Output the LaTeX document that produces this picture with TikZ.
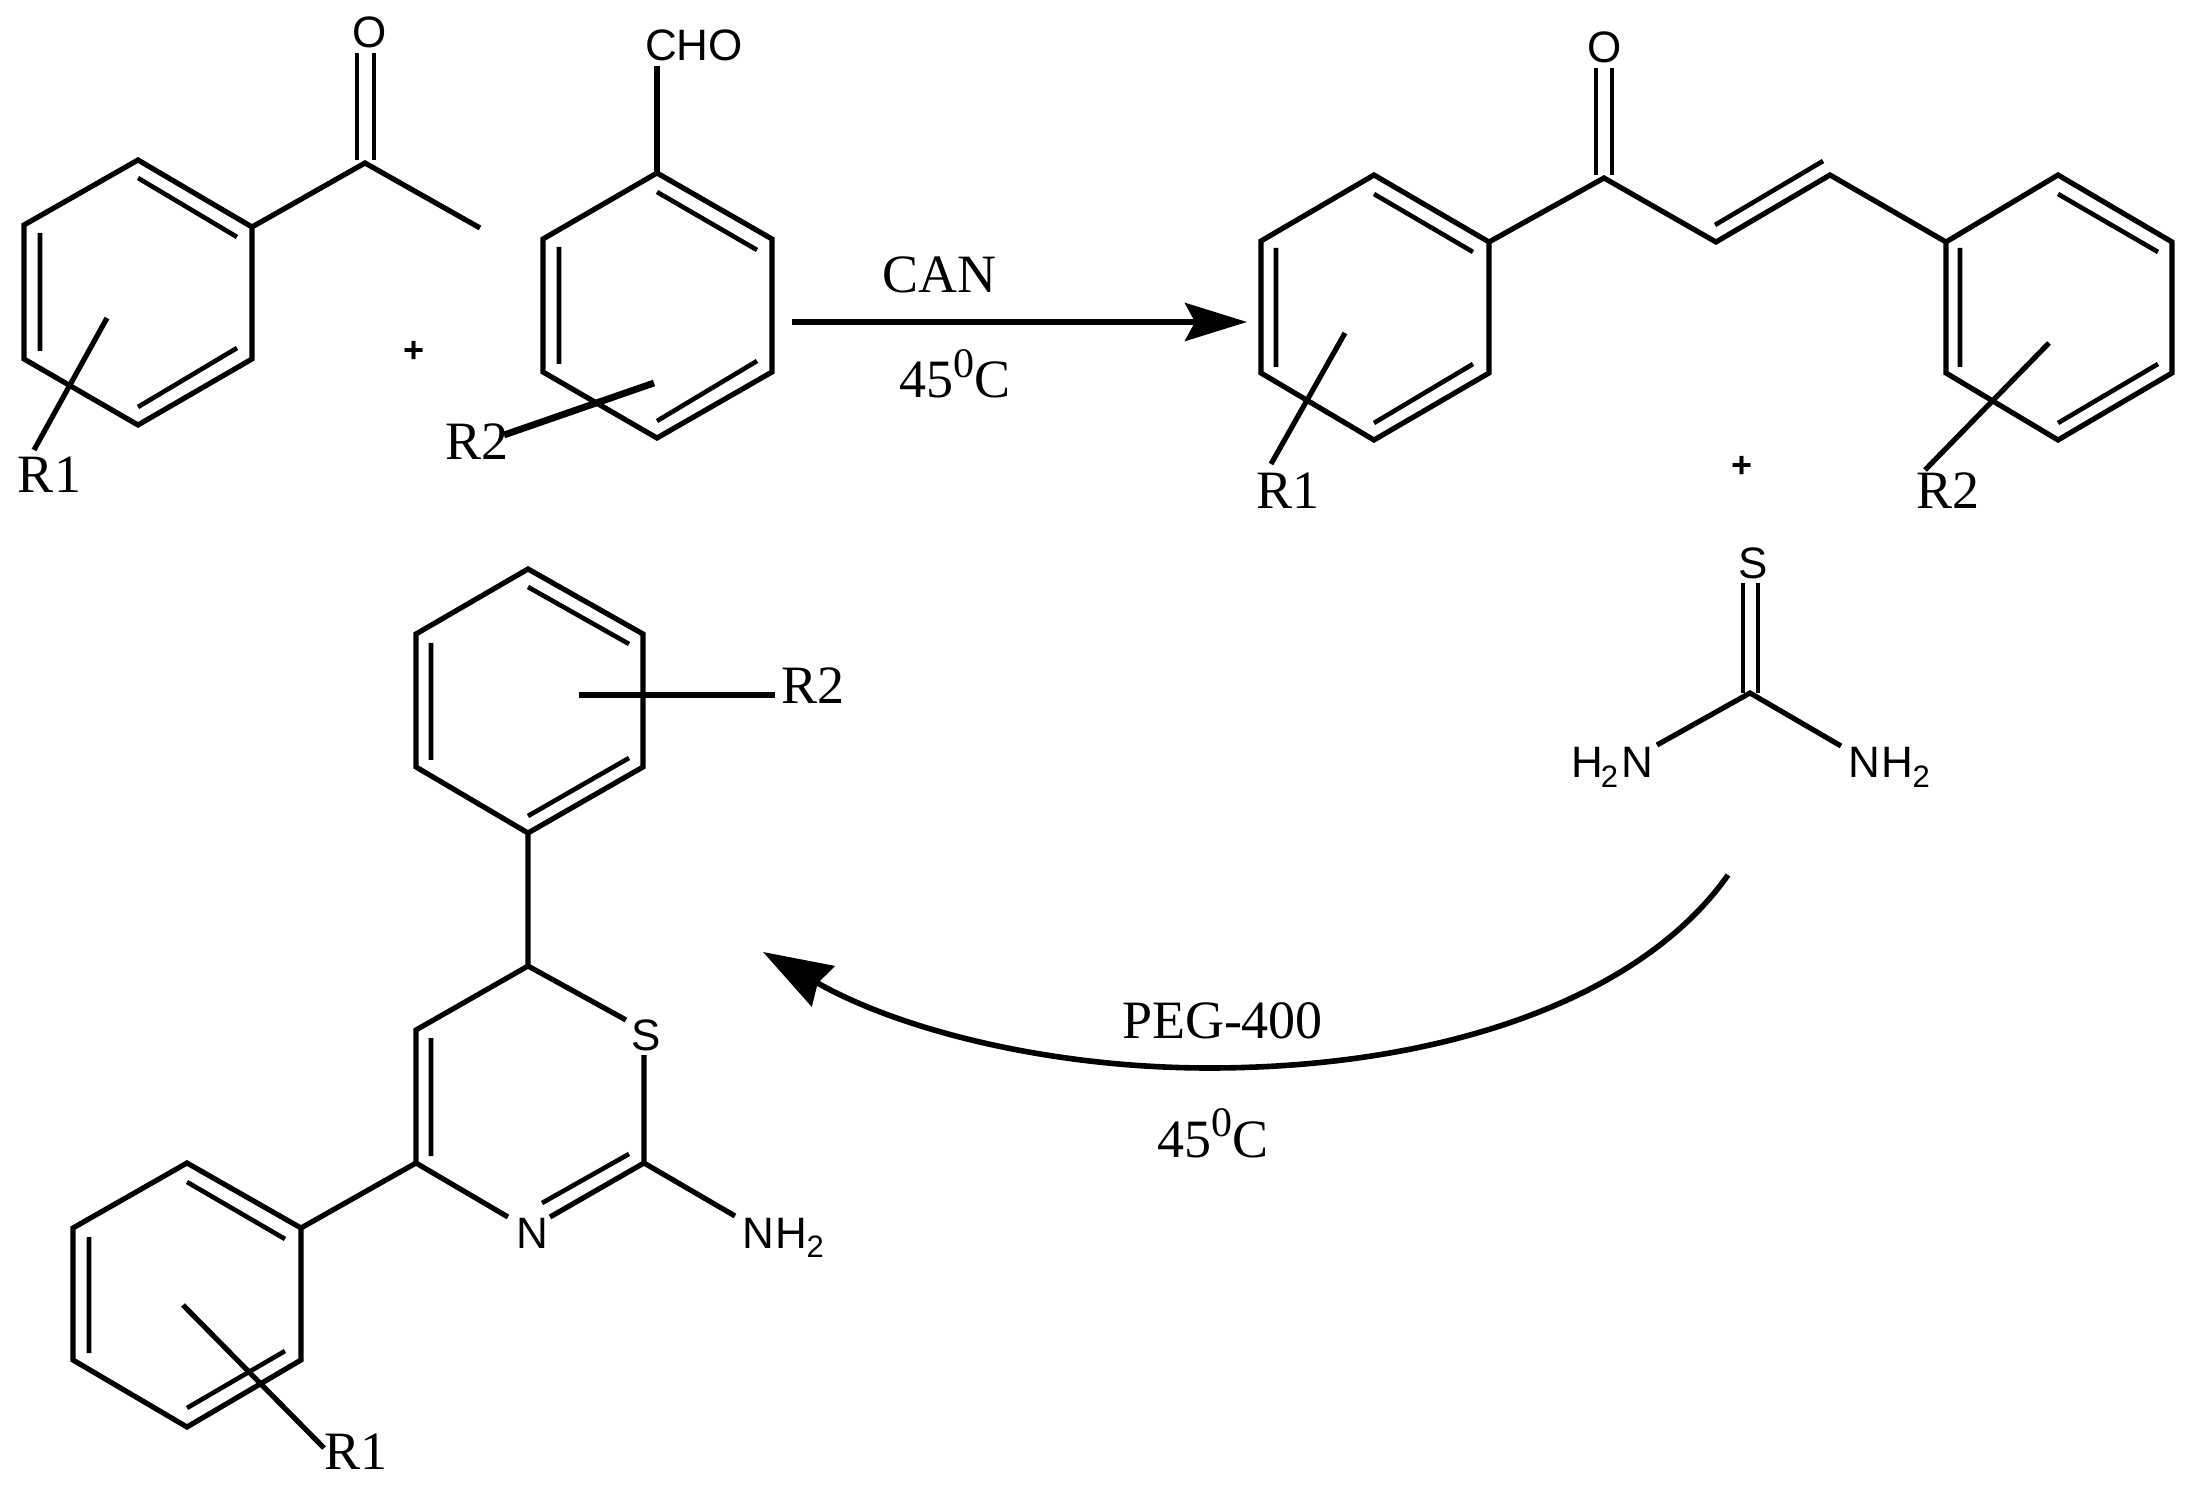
\documentclass[tikz,border=0pt]{standalone}
\usepackage{fontspec}
\setmainfont{Liberation Serif}
\newfontfamily\arialf{Liberation Sans}
\usetikzlibrary{arrows.meta}
\newcommand{\serifsz}{\fontsize{27}{27}\selectfont}
\newcommand{\atomsz}{\arialf\fontsize{22}{22}\selectfont}
\newcommand{\subtwo}{\raisebox{-4.7pt}{\fontsize{15.5}{15.5}\selectfont 2}}
\newcommand{\tempC}{\serifsz 45\raisebox{10.2pt}{\fontsize{21}{21}\selectfont 0}C}
\tikzset{
  bond/.style={line width=2.6pt,line cap=butt,line join=miter,black},
  thinbond/.style={line width=2.3pt,line cap=butt,black},
  heavybond/.style={line width=3.4pt,line cap=butt,black},
  serif/.style={inner sep=0pt,outer sep=0pt,anchor=base west,font=\serifsz},
  atom/.style={inner sep=0pt,outer sep=0pt,anchor=base west,font=\atomsz},
  plus/.style={inner sep=0pt,outer sep=0pt,font=\arialf\bfseries\fontsize{18}{18}\selectfont},
  rxn/.style={line width=2.8pt,line cap=butt,black}
}
\begin{document}
\begin{tikzpicture}[x=0.5pt,y=-0.5pt]
\useasboundingbox (0,0) rectangle (2191,1491);
\fill[white] (0,0) rectangle (2191,1491);

% --- acetophenone ---
\coordinate (a1) at (138,160); \coordinate (a2) at (252,227); \coordinate (a3) at (252,359);
\coordinate (a4) at (138,425); \coordinate (a5) at (24,359);  \coordinate (a6) at (24,225);
\draw[bond] (a1)--(a2)--(a3)--(a4)--(a5)--(a6)--cycle;
\coordinate (ai1s) at (138,178); \coordinate (ai1e) at (237,237);
\coordinate (ai2s) at (40,233);  \coordinate (ai2e) at (40,351);
\coordinate (ai3s) at (237,348); \coordinate (ai3e) at (138,407);
\draw[thinbond] (ai1s)--(ai1e) (ai2s)--(ai2e) (ai3s)--(ai3e);
\coordinate (ac) at (365,163); \coordinate (ame) at (480,228);
\draw[bond] (a2)--(ac)--(ame);
\coordinate (ao1) at (357,53); \coordinate (ao1b) at (357,160);
\coordinate (ao2) at (374,53); \coordinate (ao2b) at (374,160);
\draw[thinbond] (ao1)--(ao1b) (ao2)--(ao2b);
\node[atom] (aO) at (352,48) {O};
\coordinate (ar1s) at (107,318); \coordinate (ar1e) at (34,450);
\draw[bond] (ar1s)--(ar1e);
\node[serif] (aR1) at (18,493) {R1};
\node[plus] (plus1) at (414,352) {+};

% --- aldehyde ---
\coordinate (b1) at (657,173); \coordinate (b2) at (772,239); \coordinate (b3) at (772,372);
\coordinate (b4) at (657,438); \coordinate (b5) at (543,372); \coordinate (b6) at (543,239);
\draw[bond] (b1)--(b2)--(b3)--(b4)--(b5)--(b6)--cycle;
\coordinate (bi1s) at (657,192); \coordinate (bi1e) at (757,250);
\coordinate (bi2s) at (559,247); \coordinate (bi2e) at (559,364);
\coordinate (bi3s) at (757,361); \coordinate (bi3e) at (657,421);
\draw[thinbond] (bi1s)--(bi1e) (bi2s)--(bi2e) (bi3s)--(bi3e);
\coordinate (bch) at (657,66);
\draw[bond] (b1)--(bch);
\node[atom] (bCHO) at (645,61) {CHO};
\coordinate (br2s) at (654,383); \coordinate (br2e) at (504,435);
\draw[heavybond] (br2s)--(br2e);
\node[serif] (bR2) at (445,460) {R2};

% --- first arrow ---
\coordinate (ar1a) at (792,322); \coordinate (ar1b) at (1247,322);
\draw[rxn,-{Stealth[length=31pt,width=19pt,inset=5pt]}] (ar1a)--(ar1b);
\node[serif] (can) at (882,293) {CAN};
\node[serif] (t1) at (899,398) {\tempC};

% --- chalcone ---
\coordinate (c1) at (1374,175); \coordinate (c2) at (1489,242); \coordinate (c3) at (1489,373);
\coordinate (c4) at (1374,440); \coordinate (c5) at (1261,373); \coordinate (c6) at (1261,241);
\draw[bond] (c1)--(c2)--(c3)--(c4)--(c5)--(c6)--cycle;
\coordinate (ci1s) at (1374,194); \coordinate (ci1e) at (1473,252);
\coordinate (ci2s) at (1276,248); \coordinate (ci2e) at (1276,367);
\coordinate (ci3s) at (1473,364); \coordinate (ci3e) at (1374,423);
\draw[thinbond] (ci1s)--(ci1e) (ci2s)--(ci2e) (ci3s)--(ci3e);
\coordinate (cc) at (1604,178); \coordinate (cal) at (1716,242); \coordinate (cbe) at (1830,175);
\coordinate (d6) at (1946,242);
\draw[bond] (c2)--(cc)--(cal)--(cbe)--(d6);
\coordinate (cdbs) at (1715,225); \coordinate (cdbe) at (1823,161);
\draw[thinbond] (cdbs)--(cdbe);
\coordinate (co1) at (1596,68); \coordinate (co1b) at (1596,175);
\coordinate (co2) at (1612,68); \coordinate (co2b) at (1612,175);
\draw[thinbond] (co1)--(co1b) (co2)--(co2b);
\node[atom] (cO) at (1587,63) {O};
\coordinate (d1) at (2058,175); \coordinate (d2) at (2172,242); \coordinate (d3) at (2172,373);
\coordinate (d4) at (2058,440); \coordinate (d5) at (1946,373);
\draw[bond] (d1)--(d2)--(d3)--(d4)--(d5)--(d6)--cycle;
\coordinate (di1s) at (2058,194); \coordinate (di1e) at (2158,252);
\coordinate (di2s) at (1960,248); \coordinate (di2e) at (1960,367);
\coordinate (di3s) at (2158,364); \coordinate (di3e) at (2058,423);
\draw[thinbond] (di1s)--(di1e) (di2s)--(di2e) (di3s)--(di3e);
\coordinate (cr1s) at (1345,333); \coordinate (cr1e) at (1271,464);
\draw[bond] (cr1s)--(cr1e);
\node[serif] (cR1) at (1256,509) {R1};
\coordinate (cr2s) at (2049,343); \coordinate (cr2e) at (1925,470);
\draw[bond] (cr2s)--(cr2e);
\node[serif] (cR2) at (1916,509) {R2};
\node[plus] (plus2) at (1742,467) {+};

% --- thiourea ---
\coordinate (tc) at (1750,693);
\coordinate (ts1) at (1743,583); \coordinate (ts1b) at (1743,693);
\coordinate (ts2) at (1758,583); \coordinate (ts2b) at (1758,693);
\draw[thinbond] (ts1)--(ts1b) (ts2)--(ts2b);
\coordinate (tn1) at (1657,745); \coordinate (tn2) at (1841,746);
\draw[bond] (tn1)--(tc)--(tn2);
\node[atom] (tS) at (1738,579) {S};
\node[atom] (tH2N) at (1571,778) {H\kern-1pt\subtwo\kern1.5pt N};
\node[atom] (tNH2) at (1848,778) {N\kern1pt H\kern-0.5pt\subtwo};

% --- second arrow ---
\coordinate (ar2a) at (1728,875); \coordinate (ar2m) at (1209,1068); \coordinate (ar2b) at (763,952);
\draw[rxn,-{Stealth[length=34.5pt,width=23pt,inset=3pt]}] (ar2a)
  .. controls (1640,1000) and (1440,1068) .. (ar2m)
  .. controls (1050,1068) and (900,1030) .. (ar2b);
\node[serif] (peg) at (1122,1038) {PEG-400};
\node[serif] (t2) at (1157,1157) {\tempC};

% --- thiazine product ---
\coordinate (e1) at (528,569); \coordinate (e2) at (643,634); \coordinate (e3) at (643,767);
\coordinate (e4) at (528,833); \coordinate (e5) at (416,767); \coordinate (e6) at (416,634);
\draw[bond] (e1)--(e2)--(e3)--(e4)--(e5)--(e6)--cycle;
\coordinate (ei1s) at (528,587); \coordinate (ei1e) at (629,644);
\coordinate (ei2s) at (431,643); \coordinate (ei2e) at (431,760);
\coordinate (ei3s) at (629,758); \coordinate (ei3e) at (528,816);
\draw[thinbond] (ei1s)--(ei1e) (ei2s)--(ei2e) (ei3s)--(ei3e);
\coordinate (er2s) at (579,695); \coordinate (er2e) at (775,695);
\draw[bond] (er2s)--(er2e);
\node[serif] (eR2) at (781,704) {R2};
\coordinate (h6) at (528,966); \coordinate (h5) at (416,1030); \coordinate (h4) at (416,1163);
\coordinate (hS1) at (626,1020); \coordinate (hS2) at (644,1055); \coordinate (h2) at (644,1163);
\coordinate (hN1) at (550,1217); \coordinate (hN2) at (508,1217);
\coordinate (hi1s) at (629,1154); \coordinate (hi1e) at (542,1203);
\coordinate (hi2s) at (431,1038); \coordinate (hi2e) at (431,1156);
\coordinate (hNH) at (735,1216);
\draw[bond] (e4)--(h6)--(h5)--(h4)--(hN2);
\draw[bond] (h6)--(hS1);
\draw[bond] (hS2)--(h2)--(hN1);
\draw[bond] (h2)--(hNH);
\draw[thinbond] (hi1s)--(hi1e) (hi2s)--(hi2e);
\node[atom] (hS) at (631,1050) {S};
\node[atom] (hN) at (516,1248) {N};
\node[atom] (hNH2) at (742,1248) {N\kern1pt H\kern-0.5pt\subtwo};
\coordinate (f1) at (187,1163); \coordinate (f2) at (301,1228); \coordinate (f3) at (301,1360);
\coordinate (f4) at (187,1427); \coordinate (f5) at (73,1360);  \coordinate (f6) at (73,1228);
\draw[bond] (f1)--(f2)--(f3)--(f4)--(f5)--(f6)--cycle;
\draw[bond] (h4)--(f2);
\coordinate (fi1s) at (187,1182); \coordinate (fi1e) at (285,1239);
\coordinate (fi2s) at (89,1237);  \coordinate (fi2e) at (89,1353);
\coordinate (fi3s) at (285,1351); \coordinate (fi3e) at (187,1408);
\draw[thinbond] (fi1s)--(fi1e) (fi2s)--(fi2e) (fi3s)--(fi3e);
\coordinate (fr1s) at (183,1305); \coordinate (fr1e) at (324,1448);
\draw[bond] (fr1s)--(fr1e);
\node[serif] (fR1) at (324,1469) {R1};
\end{tikzpicture}
\end{document}
